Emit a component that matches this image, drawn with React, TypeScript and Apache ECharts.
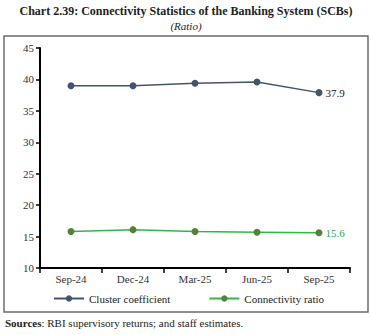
import React, { useEffect, useRef } from "react";
import * as echarts from "echarts";

const categories = ["Sep-24", "Dec-24", "Mar-25", "Jun-25", "Sep-25"];
const clusterCoefficient = [39.0, 39.0, 39.4, 39.6, 37.9];
const connectivityRatio = [15.8, 16.1, 15.8, 15.7, 15.6];
const yTicks = [10, 15, 20, 25, 30, 35, 40, 45];

const FONT = "Liberation Serif";

export default function App() {
  const ref = useRef<HTMLDivElement>(null);
  useEffect(() => {
    const chart = echarts.init(ref.current!, null, { renderer: "svg" });
    const last = categories.length - 1;
    chart.setOption({
      animation: false,
      textStyle: { fontFamily: FONT },
      graphic: [
        {
          type: "rect",
          shape: { x: 4, y: 36, width: 364, height: 276 },
          style: { fill: "none", stroke: "#6b6b6b", lineWidth: 1.5 },
          silent: true,
        },
        {
          type: "text",
          left: "center",
          top: 5,
          style: {
            text: "Chart 2.39: Connectivity Statistics of the Banking System (SCBs)",
            font: `bold 12px '${FONT}'`,
            fill: "#222",
          },
        },
        {
          type: "text",
          left: "center",
          top: 20,
          style: { text: "(Ratio)", font: `italic 11px '${FONT}'`, fill: "#222" },
        },
        {
          type: "text",
          left: 5,
          top: 317,
          style: {
            rich: {
              b: { font: `bold 11px '${FONT}'`, fill: "#222" },
              n: { font: `11px '${FONT}'`, fill: "#222" },
            },
            text: "{b|Sources}{n|: RBI supervisory returns; and staff estimates.}",
          },
        },
      ],
      grid: { left: 40, right: 22, top: 48, bottom: 67, containLabel: false },
      legend: {
        top: 288,
        left: 48,
        itemGap: 38,
        itemWidth: 30,
        itemHeight: 8,
        textStyle: { fontFamily: FONT, fontSize: 11, color: "#222" },
        data: ["Cluster coefficient", "Connectivity ratio"],
      },
      xAxis: {
        type: "category",
        data: categories,
        boundaryGap: true,
        axisLine: { lineStyle: { color: "#000", width: 2 } },
        axisTick: { show: true, length: 5, lineStyle: { color: "#000", width: 1.5 } },
        axisLabel: { fontFamily: FONT, fontSize: 11, color: "#333", margin: 5 },
      },
      yAxis: {
        type: "value",
        min: yTicks[0],
        max: yTicks[yTicks.length - 1],
        interval: 5,
        splitLine: { show: false },
        axisLine: { show: true, lineStyle: { color: "#000", width: 2 } },
        axisTick: { show: true, length: 4, lineStyle: { color: "#000", width: 1.5 } },
        axisLabel: { fontFamily: FONT, fontSize: 11, color: "#333", margin: 6 },
      },
      series: [
        {
          name: "Cluster coefficient",
          type: "line",
          data: clusterCoefficient.map((v, i) =>
            i === last
              ? { value: v, label: { show: true, position: "right", distance: 3, formatter: (p: any) => p.value.toFixed(1), color: "#222", fontFamily: FONT, fontSize: 11 } }
              : v
          ),
          symbol: "circle",
          symbolSize: 7,
          lineStyle: { color: "#44546a", width: 1.5 },
          itemStyle: { color: "#44546a" },
        },
        {
          name: "Connectivity ratio",
          type: "line",
          data: connectivityRatio.map((v, i) =>
            i === last
              ? { value: v, label: { show: true, position: "right", distance: 3, formatter: (p: any) => p.value.toFixed(1), color: "#2eaa50", fontFamily: FONT, fontSize: 11 } }
              : v
          ),
          symbol: "circle",
          symbolSize: 7,
          lineStyle: { color: "#2eb84a", width: 1.5 },
          itemStyle: { color: "#548235" },
        },
      ],
    });
    return () => chart.dispose();
  }, []);
  return (
    <div
      ref={ref}
      style={{ position: "fixed", left: 0, top: 0, width: 372, height: 335, background: "#fff" }}
    />
  );
}
